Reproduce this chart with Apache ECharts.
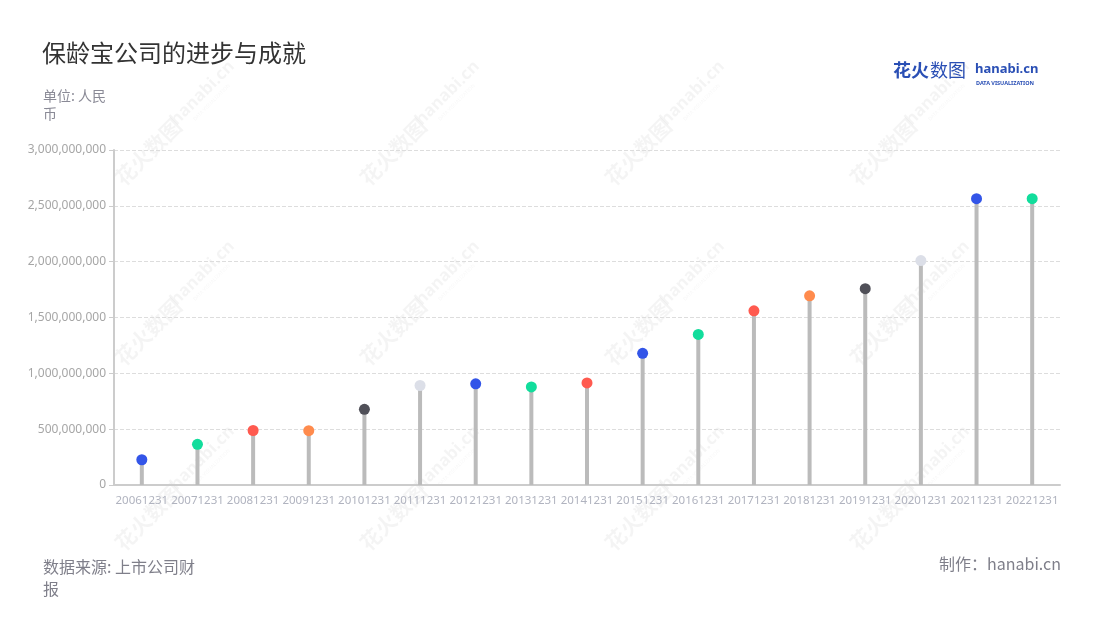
<!DOCTYPE html>
<html><head><meta charset="utf-8">
<script src="https://cdn.jsdelivr.net/npm/echarts@6/dist/echarts.min.js"></script>
<style>html,body{margin:0;padding:0;background:#fff}#c{width:1100px;height:620px}</style>
</head><body><div id="c"></div>
<script>
const categories = ['20061231','20071231','20081231','20091231','20101231','20111231','20121231','20131231','20141231','20151231','20161231','20171231','20181231','20191231','20201231','20211231','20221231'];
const values = [226000000,364000000,488000000,486000000,678000000,891000000,906000000,878000000,914000000,1179000000,1348000000,1560000000,1694000000,1758000000,2010000000,2564000000,2564000000];
const pointColors = ['#3355e8','#12dd9c','#ff5a4f','#ff8b4d','#505058','#dcdfe8','#3355e8','#12dd9c','#ff5a4f','#3355e8','#12dd9c','#ff5a4f','#ff8b4d','#505058','#dcdfe8','#3355e8','#12dd9c'];
const yTicks = {min:0, max:3000000000, interval:500000000};

const chart = echarts.init(document.getElementById('c'));
const wm = [];
const wmX = [175, 420, 665, 910];
const wmY = [125, 305, 490];
wmX.forEach(x => wmY.forEach(y => {
  wm.push({type:'group', x:x, y:y, rotation:Math.PI/4, silent:true, z:0, children:[
    {type:'text', style:{text:'花火数图', x:-38, y:0, fill:'rgba(0,0,0,0.045)', font:'bold 21px "Noto Sans CJK SC"', textAlign:'center', textVerticalAlign:'middle'}},
    {type:'text', style:{text:'hanabi.cn', x:42, y:-3, fill:'rgba(0,0,0,0.045)', font:'bold 17px "Noto Sans"', textAlign:'center', textVerticalAlign:'middle'}},
    {type:'text', style:{text:'DATA VISUALIZATION', x:42, y:10, fill:'rgba(0,0,0,0.04)', font:'5px "Noto Sans"', textAlign:'center', textVerticalAlign:'middle'}}
  ]});
}));

chart.setOption({
  animation:false,
  backgroundColor:'#fff',
  title:[
    {text:'保龄宝公司的进步与成就', left:42, top:41, padding:0, textStyle:{fontSize:24, fontWeight:'normal', color:'#333', fontFamily:'"Noto Sans CJK SC"'}},
    {text:'单位: 人民\n币', left:43, top:87, padding:0, textStyle:{fontSize:14, fontWeight:'normal', color:'#8a8a96', lineHeight:18, fontFamily:'"Noto Sans CJK SC"'}},
    {text:'数据来源: 上市公司财\n报', left:43, top:556, padding:0, textStyle:{fontSize:16, fontWeight:'normal', color:'#7f7f8a', lineHeight:22, fontFamily:'"Noto Sans CJK SC"'}},
    {text:'制作：hanabi.cn', right:39, top:556, padding:0, textStyle:{fontSize:16, fontWeight:'normal', color:'#7f7f8a', fontFamily:'"Noto Sans CJK SC"'}}
  ],
  graphic:[
    {type:'group', left:893, top:61, z:10, children:[
      {type:'text', style:{text:'花火', x:0, y:0, fill:'#2a4fb5', font:'bold 18px "Noto Sans CJK SC"'}},
      {type:'text', style:{text:'数图', x:37, y:0, fill:'#2a4fb5', font:'18px "Noto Sans CJK SC"'}},
      {type:'text', style:{text:'hanabi.cn', x:82, y:2, fill:'#2a4fb5', font:'bold 13px "Noto Sans"'}},
      {type:'text', style:{text:'DATA VISUALIZATION', x:83, y:19, fill:'#2a4fb5', font:'bold 5.5px "Noto Sans"'}}
    ]}
  ].concat(wm),
  grid:{left:114, right:40, top:150, bottom:135},
  xAxis:{type:'category', data:categories,
    axisLine:{lineStyle:{color:'#cccccc', width:2}},
    axisTick:{alignWithLabel:true, lineStyle:{color:'#bbbbbb'}},
    axisLabel:{interval:0, color:'#b0b3bf', fontSize:11.5, fontFamily:'"Noto Sans"', margin:10}},
  yAxis:{type:'value', min:yTicks.min, max:yTicks.max, interval:yTicks.interval,
    axisLine:{show:true, lineStyle:{color:'#cccccc', width:2}},
    axisTick:{show:true, lineStyle:{color:'#cccccc'}},
    splitLine:{lineStyle:{type:'dashed', color:'#dddddd'}},
    axisLabel:{color:'#a6a6a6', fontSize:12, fontFamily:'"Noto Sans"',
      formatter:v=>v.toLocaleString('en-US')}},
  series:[
    {type:'bar', data:values, barWidth:4, itemStyle:{color:'#bbbbbb'}, silent:true, z:2},
    {type:'scatter', data:values.map((v,i)=>({value:v, itemStyle:{color:pointColors[i], opacity:1}})), symbolSize:11, z:3}
  ]
});
</script></body></html>
